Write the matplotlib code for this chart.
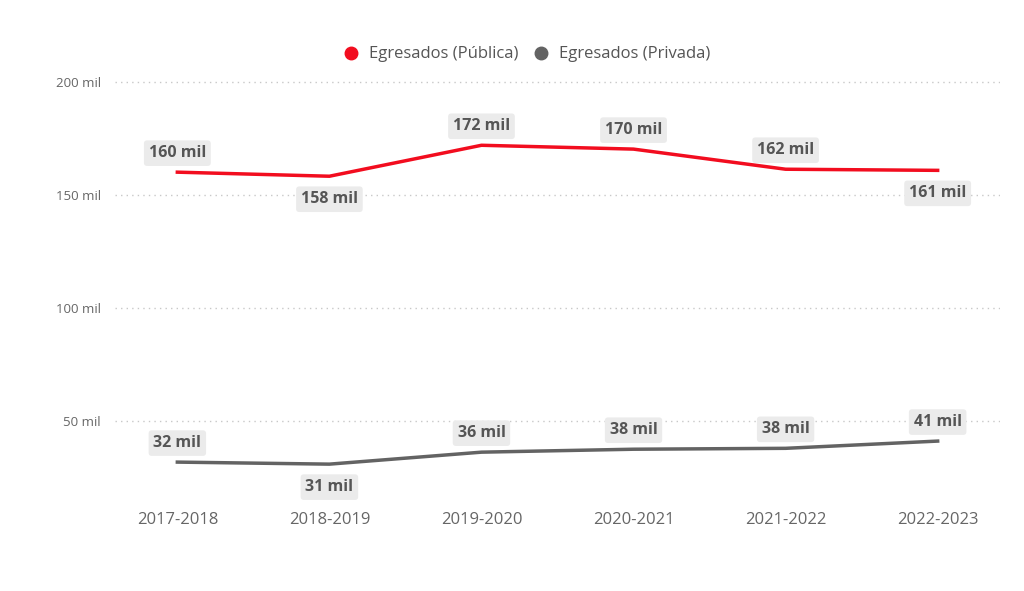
import matplotlib
matplotlib.use("Agg")
from matplotlib import pyplot as plt
from matplotlib.lines import Line2D

plt.rcParams['font.family'] = ['Open Sans', 'DejaVu Sans']

years = ['2017-2018', '2018-2019', '2019-2020', '2020-2021', '2021-2022', '2022-2023']
publica = [160.2, 158.4, 172.1, 170.4, 161.5, 161.0]
privada = [31.9, 31.0, 36.3, 37.6, 38.0, 41.2]
pub_above = [True, False, True, True, True, False]
priv_above = [True, False, True, True, True, True]

red = '#f20d1f'
grey = '#636363'

fig = plt.figure(figsize=(10.24, 5.91), dpi=100)
ax = fig.add_axes([115/1024, 0.142, 885/1024, 0.738])
x = list(range(len(years)))
ax.plot(x, publica, color=red, lw=2.5)
ax.plot(x, privada, color=grey, lw=2.5)

def labels(vals, above):
    for i, (v, a) in enumerate(zip(vals, above)):
        ax.annotate(f'{round(v)} mil', (i, v), xytext=(0, 19 if a else -23),
                    textcoords='offset points' if False else 'offset pixels',
                    ha='center', va='center', fontsize=11.5, fontweight='bold',
                    color='#555555',
                    bbox=dict(boxstyle='round,pad=0.3,rounding_size=0.2',
                              fc='#ebebeb', ec='none'))

labels(publica, pub_above)
labels(privada, priv_above)

ax.set_xlim(-0.41, 5.41)
ax.set_ylim(12, 205)
ax.set_yticks([50, 100, 150, 200])
ax.set_yticklabels(['50 mil', '100 mil', '150 mil', '200 mil'], fontsize=9.5, color='#666666')
ax.set_xticks(x)
ax.set_xticklabels(years, fontsize=12, color='#666666')
ax.tick_params(length=0)
ax.tick_params(axis='y', pad=10)
ax.grid(axis='y', ls=(0, (1, 3)), color='#c8c8c8', lw=1)
for s in ax.spines.values():
    s.set_visible(False)

handles = [Line2D([], [], marker='o', ls='none', color=red, markersize=9),
           Line2D([], [], marker='o', ls='none', color=grey, markersize=9)]
fig.legend(handles, ['Egresados (Pública)', 'Egresados (Privada)'], loc='center',
           bbox_to_anchor=(0.51, 0.908), ncol=2, frameon=False, fontsize=12,
           handletextpad=0.05, columnspacing=0.4, labelcolor='#555555')

fig.savefig('out.png', dpi=100)
